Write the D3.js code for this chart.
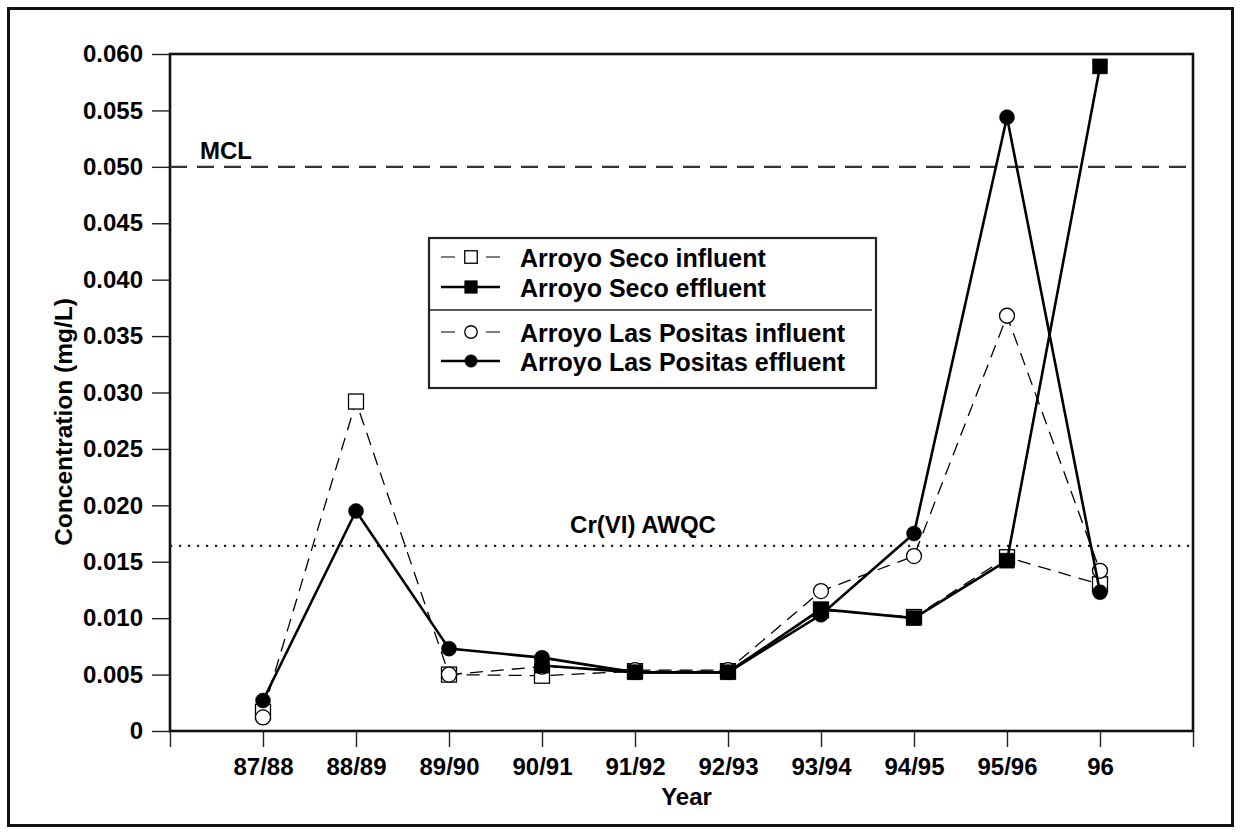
<!DOCTYPE html>
<html>
<head>
<meta charset="utf-8">
<script src="https://cdn.jsdelivr.net/npm/d3@7/dist/d3.min.js"></script>
<style>
  html, body { margin: 0; padding: 0; background: #fff; }
  svg { display: block; }
  text { font-family: "Liberation Sans", Arial, Helvetica, sans-serif; font-weight: bold; fill: #000; }
</style>
</head>
<body>
<svg id="chart" width="1241" height="834"></svg>
<script>
// Sampling years
const years = ["87/88", "88/89", "89/90", "90/91", "91/92", "92/93", "93/94", "94/95", "95/96", "96"];

// Chromium concentrations, mg/L (null = not sampled)
const secoInfluent      = [0.0017, 0.0292, 0.0050, 0.0049, 0.0053, 0.0053, 0.0107, 0.0101, 0.0154, 0.0130];
const secoEffluent      = [null,   null,   null,   0.0058, 0.0052, 0.0052, 0.0108, 0.0100, 0.0151, 0.0589];
const positasInfluent   = [0.0012, null,   0.0050, 0.0057, 0.0054, 0.0054, 0.0124, 0.0155, 0.0368, 0.0142];
const positasEffluent   = [0.0027, 0.0195, 0.0073, 0.0065, 0.0052, 0.0052, 0.0103, 0.0175, 0.0544, 0.0123];

// Regulatory reference levels, mg/L
const mclLevel = 0.050;
const awqcLevel = 0.0164;

// Y-axis tick values
const yTicks = [0, 0.005, 0.010, 0.015, 0.020, 0.025, 0.030, 0.035, 0.040, 0.045, 0.050, 0.055, 0.060];

const series = [
  { name: "Arroyo Seco influent",        values: secoInfluent,    shape: "square", filled: false, layer: 0 },
  { name: "Arroyo Seco effluent",        values: secoEffluent,    shape: "square", filled: true,  layer: 2 },
  { name: "Arroyo Las Positas influent", values: positasInfluent, shape: "circle", filled: false, layer: 1 },
  { name: "Arroyo Las Positas effluent", values: positasEffluent, shape: "circle", filled: true,  layer: 3 }
];

const svg = d3.select("#chart");
const plot = { left: 170, right: 1193, top: 54, bottom: 731 };

const x = d3.scaleLinear().domain([-1, years.length]).range([plot.left, plot.right]);
const y = d3.scaleLinear().domain([0, 0.060]).range([plot.bottom, plot.top]);

// Outer page frame
svg.append("rect")
  .attr("x", 8.5).attr("y", 8.5).attr("width", 1224).attr("height", 817)
  .attr("fill", "none").attr("stroke", "#111").attr("stroke-width", 3);

// Y axis
const yAxis = d3.axisLeft(y)
  .tickValues(yTicks)
  .tickSize(18)
  .tickPadding(9)
  .tickFormat(d => d === 0 ? "0" : d3.format(".3f")(d));
svg.append("g")
  .attr("transform", `translate(${plot.left},0)`)
  .call(yAxis)
  .call(g => g.select(".domain").remove())
  .call(g => g.selectAll(".tick line").attr("stroke", "#222").attr("stroke-width", 1.4))
  .call(g => g.selectAll(".tick text").style("font-size", "24px").attr("fill", "#000"));

// X axis: ticks at every slot, labels only under the sampling years
const xAxis = d3.axisBottom(x)
  .tickValues(d3.range(-1, years.length + 1))
  .tickSize(16)
  .tickPadding(11)
  .tickFormat(i => (i >= 0 && i < years.length) ? years[i] : "");
svg.append("g")
  .attr("transform", `translate(0,${plot.bottom})`)
  .call(xAxis)
  .call(g => g.select(".domain").remove())
  .call(g => g.selectAll(".tick line").attr("stroke", "#222").attr("stroke-width", 1.4))
  .call(g => g.selectAll(".tick text").style("font-size", "24px").attr("fill", "#000"));

// Plot frame
svg.append("rect")
  .attr("x", plot.left).attr("y", plot.top)
  .attr("width", plot.right - plot.left).attr("height", plot.bottom - plot.top)
  .attr("fill", "none").attr("stroke", "#111").attr("stroke-width", 2.6);

// Axis titles
svg.append("text")
  .attr("x", (plot.left + plot.right) / 2 + 5).attr("y", 805)
  .attr("text-anchor", "middle").style("font-size", "24px")
  .text("Year");
svg.append("text")
  .attr("transform", "translate(72,422) rotate(-90)")
  .attr("text-anchor", "middle").style("font-size", "24.5px")
  .text("Concentration (mg/L)");

// Reference lines
svg.append("line")
  .attr("x1", plot.left).attr("x2", plot.right)
  .attr("y1", y(mclLevel)).attr("y2", y(mclLevel))
  .attr("stroke", "#333").attr("stroke-width", 2.2).attr("stroke-dasharray", "17,10");
svg.append("text")
  .attr("x", 200).attr("y", y(mclLevel) - 8)
  .style("font-size", "24px").text("MCL");

svg.append("line")
  .attr("x1", plot.left).attr("x2", plot.right)
  .attr("y1", y(awqcLevel)).attr("y2", y(awqcLevel))
  .attr("stroke", "#222").attr("stroke-width", 2.2).attr("stroke-dasharray", "2.2,6.8");
svg.append("text")
  .attr("x", 643).attr("y", y(awqcLevel) - 13)
  .attr("text-anchor", "middle").style("font-size", "24px")
  .text("Cr(VI) AWQC");

// Data series: influents underneath, effluents on top
const line = d3.line()
  .defined(d => d.v != null)
  .x(d => x(d.i))
  .y(d => y(d.v));

function drawMarker(g, shape, filled, size) {
  if (shape === "square") {
    g.append("rect")
      .attr("x", -size / 2).attr("y", -size / 2)
      .attr("width", size).attr("height", size)
      .attr("fill", filled ? "#000" : "#fff")
      .attr("stroke", "#000").attr("stroke-width", filled ? 0.5 : 1.3);
  } else {
    g.append("circle")
      .attr("r", size / 2)
      .attr("fill", filled ? "#000" : "#fff")
      .attr("stroke", "#000").attr("stroke-width", filled ? 0.5 : 1.3);
  }
}

series.slice().sort((a, b) => a.layer - b.layer).forEach(s => {
  const pts = s.values.map((v, i) => ({ i, v }));
  const g = svg.append("g");
  g.append("path")
    .datum(pts)
    .attr("d", line)
    .attr("fill", "none")
    .attr("stroke", "#000")
    .attr("stroke-width", s.filled ? 2.6 : 1.3)
    .attr("stroke-dasharray", s.filled ? null : "13,8");
  pts.filter(d => d.v != null).forEach(d => {
    const m = g.append("g").attr("transform", `translate(${x(d.i)},${y(d.v)})`);
    drawMarker(m, s.shape, s.filled, 15);
  });
});

// Legend
const legend = svg.append("g");
legend.append("rect")
  .attr("x", 429).attr("y", 238).attr("width", 447).attr("height", 150)
  .attr("fill", "#fff").attr("stroke", "#222").attr("stroke-width", 2.2);
legend.append("line")
  .attr("x1", 430).attr("x2", 872).attr("y1", 310).attr("y2", 310)
  .attr("stroke", "#222").attr("stroke-width", 1.6);

const legendBaselines = [267, 297, 342, 371];
series.forEach((s, k) => {
  const by = legendBaselines[k];
  const cy = by - 10;
  legend.append("line")
    .attr("x1", 441).attr("x2", 500).attr("y1", cy).attr("y2", cy)
    .attr("stroke", "#000")
    .attr("stroke-width", s.filled ? 2.6 : 1.1)
    .attr("stroke-dasharray", s.filled ? null : "14,31");
  const m = legend.append("g").attr("transform", `translate(471,${cy})`);
  drawMarker(m, s.shape, s.filled, 12.5);
  legend.append("text")
    .attr("x", 520).attr("y", by)
    .style("font-size", "25px")
    .text(s.name);
});
</script>
</body>
</html>
